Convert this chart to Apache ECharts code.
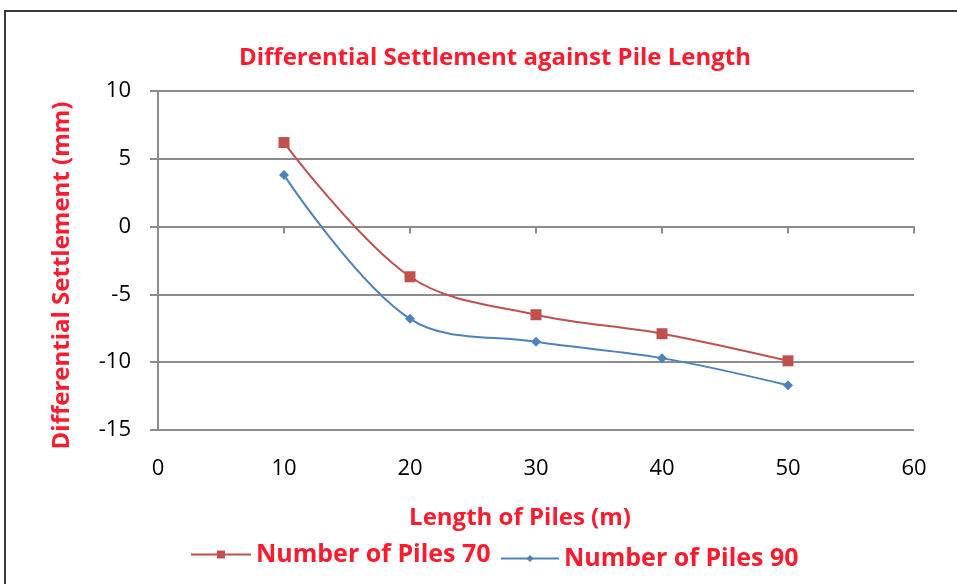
<!DOCTYPE html>
<html><head><meta charset="utf-8">
<script src="https://cdn.jsdelivr.net/npm/echarts@6/dist/echarts.min.js"></script>
<style>html,body{margin:0;padding:0;background:#fff}#c{width:957px;height:584px}</style>
</head><body><div id="c"></div>
<script>
var lengths = [10, 20, 30, 40, 50];
var piles70 = [6.2, -3.7, -6.5, -7.9, -9.9];
var piles90 = [3.8, -6.8, -8.5, -9.7, -11.7];
var seriesNames = ['Number of Piles 70', 'Number of Piles 90'];

var FONT = 'Open Sans';
var RED = '#ff1a2e';
var chart = echarts.init(document.getElementById('c'));
function pairs(xs, ys){ return xs.map(function(x,i){return [x, ys[i]];}); }
var legendText = {color: RED, fontFamily: FONT, fontWeight: 'bold', fontSize: 25};
chart.setOption({
  animation: false,
  backgroundColor: '#fff',
  graphic: [{type:'rect', shape:{x:5, y:11, width:1000, height:1000}, style:{fill:'none', stroke:'#3a3a3a', lineWidth:2}, silent:true}],
  title: {text: 'Differential Settlement against Pile Length', left: 490, textAlign: 'center', top: 41,
    textStyle: {color: RED, fontFamily: FONT, fontWeight: 'bold', fontSize: 24}},
  legend: [{top: 537, left: 185, itemGap: 6, itemWidth: 60, itemHeight: 10,
    textStyle: legendText, data: [seriesNames[0]]},
    {top: 541, left: 495, itemGap: 2, itemWidth: 58, itemHeight: 9,
    textStyle: legendText, data: [seriesNames[1]]}],
  grid: {left: 158, right: 43, top: 91, bottom: 154},
  xAxis: [{
    type: 'value', min: 0, max: 60, interval: 10, position: 'bottom',
    name: 'Length of Piles (m)', nameLocation: 'middle', nameGap: 76,
    nameTextStyle: {color: RED, fontFamily: FONT, fontWeight: 'bold', fontSize: 24, padding: [0, 32, 0, 0]},
    axisLine: {show: false, onZero: false}, axisTick: {show: false}, splitLine: {show: false},
    axisLabel: {color: '#000', fontFamily: FONT, fontSize: 22, margin: 28}
  }, {
    type: 'value', min: 0, max: 60, interval: 10, position: 'top',
    axisLine: {show: true, onZero: true, lineStyle: {color: '#8c8c8c', width: 2}},
    axisTick: {show: true, inside: true, length: 7, lineStyle: {color: '#8c8c8c', width: 2}},
    axisLabel: {show: false}, splitLine: {show: false}
  }],
  yAxis: {
    type: 'value', min: -15, max: 10, interval: 5,
    name: 'Differential Settlement (mm)', nameLocation: 'middle', nameGap: 84, nameRotate: 90,
    nameTextStyle: {color: RED, fontFamily: FONT, fontWeight: 'bold', fontSize: 24, padding: [0, 30, 0, 0]},
    axisLine: {show: true, onZero: false, lineStyle: {color: '#8c8c8c', width: 2}},
    axisTick: {show: true, length: 8, lineStyle: {color: '#8c8c8c', width: 2}},
    splitLine: {show: true, lineStyle: {color: '#8c8c8c', width: 2}},
    axisLabel: {color: '#000', fontFamily: FONT, fontSize: 22, margin: 27}
  },
  series: [{
    name: seriesNames[0], type: 'line', smooth: 0.35, xAxisIndex: 0,
    data: pairs(lengths, piles70), symbol: 'rect', symbolSize: 11,
    itemStyle: {color: '#c0504d'}, lineStyle: {color: '#c0504d', width: 2}
  }, {
    name: seriesNames[1], type: 'line', smooth: 0.35, xAxisIndex: 0,
    data: pairs(lengths, piles90), symbol: 'diamond', symbolSize: 10,
    itemStyle: {color: '#4f81bd'}, lineStyle: {color: '#4f81bd', width: 2}
  }]
});
</script></body></html>
